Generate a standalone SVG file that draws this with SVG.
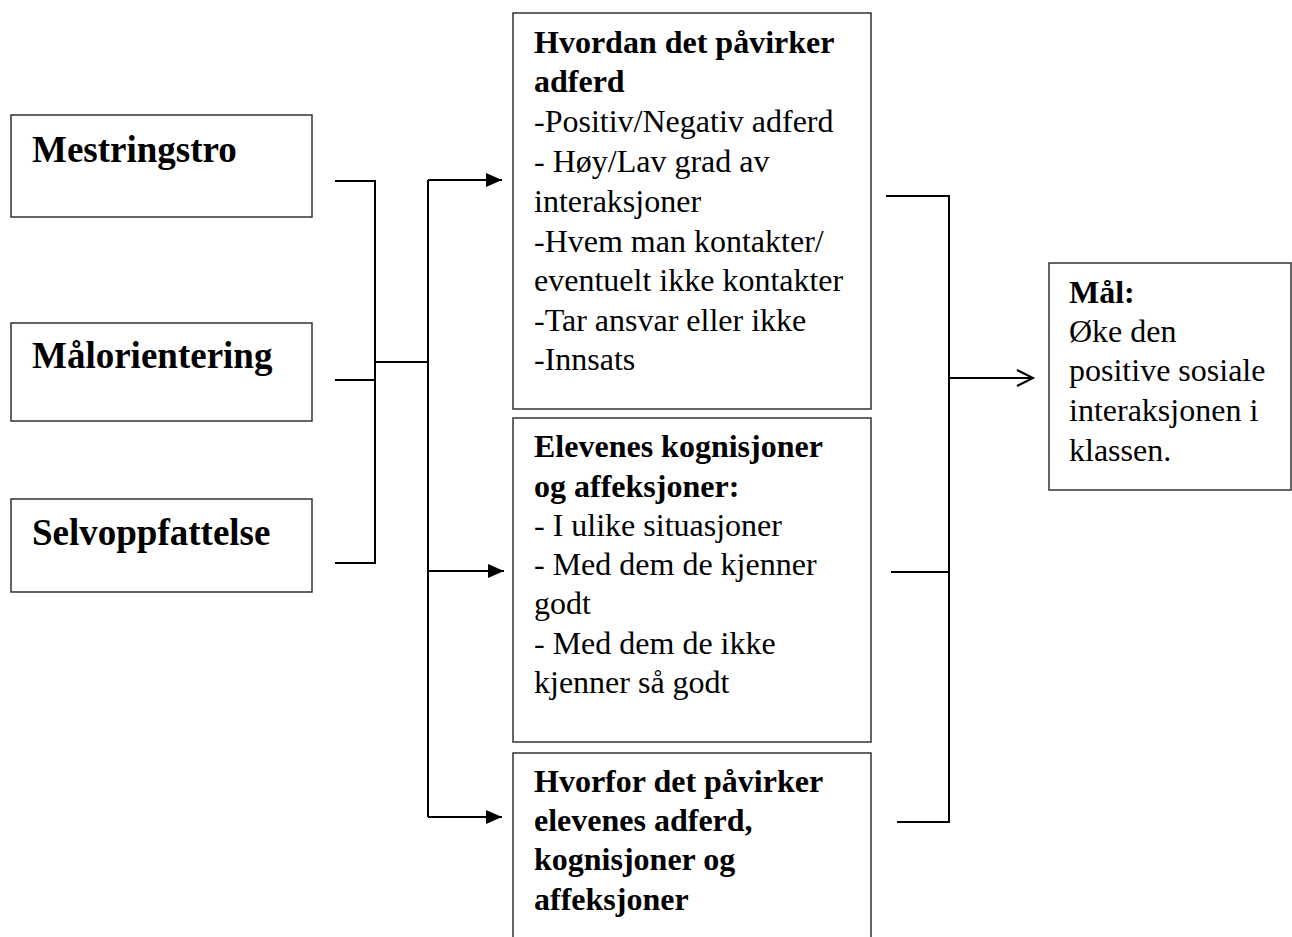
<svg xmlns="http://www.w3.org/2000/svg" width="1292" height="937" viewBox="0 0 1292 937">
<defs>
<style>
.box{fill:#fff;stroke:#333;stroke-width:1.5}
.conn{fill:none;stroke:#000;stroke-width:2}
.big{font-family:"Liberation Serif","Times New Roman",serif;font-size:37px;font-weight:bold;fill:#000}
.t{font-family:"Liberation Serif","Times New Roman",serif;font-size:32px;fill:#000}
.b{font-weight:bold}
</style>
<marker id="ah" markerUnits="userSpaceOnUse" markerWidth="16" markerHeight="14" refX="16" refY="7" orient="auto">
<path d="M0,0 L16,7 L0,14 z" fill="#000"/>
</marker>
</defs>
<rect width="1292" height="937" fill="#fff"/>
<g id="n-mestringstro">
<rect class="box" x="11" y="115" width="301" height="102"/>
<text class="big" x="32" y="162">Mestringstro</text>
</g>
<g id="n-malorientering">
<rect class="box" x="11" y="323" width="301" height="98"/>
<text class="big" x="32" y="368">Målorientering</text>
</g>
<g id="n-selvoppfattelse">
<rect class="box" x="11" y="499" width="301" height="93"/>
<text class="big" x="32" y="545">Selvoppfattelse</text>
</g>
<g id="n-hvordan">
<rect class="box" x="513" y="13" width="358" height="396"/>
<text class="t"><tspan class="b" x="534" y="53">Hvordan det påvirker</tspan><tspan class="b" x="534" y="92">adferd</tspan><tspan x="534" y="132">-Positiv/Negativ adferd</tspan><tspan x="534" y="172">- Høy/Lav grad av</tspan><tspan x="534" y="212">interaksjoner</tspan><tspan x="534" y="252">-Hvem man kontakter/</tspan><tspan x="534" y="291">eventuelt ikke kontakter</tspan><tspan x="534" y="331">-Tar ansvar eller ikke</tspan><tspan x="534" y="370">-Innsats</tspan></text>
</g>
<g id="n-elevenes">
<rect class="box" x="513" y="418" width="358" height="324"/>
<text class="t"><tspan class="b" x="534" y="457">Elevenes kognisjoner</tspan><tspan class="b" x="534" y="497">og affeksjoner:</tspan><tspan x="534" y="536">- I ulike situasjoner</tspan><tspan x="534" y="575">- Med dem de kjenner</tspan><tspan x="534" y="614">godt</tspan><tspan x="534" y="654">- Med dem de ikke</tspan><tspan x="534" y="693">kjenner så godt</tspan></text>
</g>
<g id="n-hvorfor">
<rect class="box" x="513" y="753" width="358" height="200"/>
<text class="t b"><tspan x="534" y="792">Hvorfor det påvirker</tspan><tspan x="534" y="831">elevenes adferd,</tspan><tspan x="534" y="870">kognisjoner og</tspan><tspan x="534" y="910">affeksjoner</tspan></text>
</g>
<g id="n-mal">
<rect class="box" x="1049" y="263" width="242" height="227"/>
<text class="t"><tspan class="b" x="1069" y="303">Mål:</tspan><tspan x="1069" y="342">Øke den</tspan><tspan x="1069" y="381">positive sosiale</tspan><tspan x="1069" y="421">interaksjonen i</tspan><tspan x="1069" y="461">klassen.</tspan></text>
</g>
<g id="connectors">
<path class="conn" d="M335,181 H375 V563 H335 M335,380 H375 M375,362 H428"/>
<path class="conn" d="M428,180 V817"/>
<path class="conn" d="M428,180 H502" marker-end="url(#ah)"/>
<path class="conn" d="M428,571 H504" marker-end="url(#ah)"/>
<path class="conn" d="M428,817 H502" marker-end="url(#ah)"/>
<path class="conn" d="M886,196 H949 V822 H897 M891,572 H949"/>
<path class="conn" d="M949,378 H1032 M1017,370 L1033,378 L1017,386"/>
</g>
</svg>
